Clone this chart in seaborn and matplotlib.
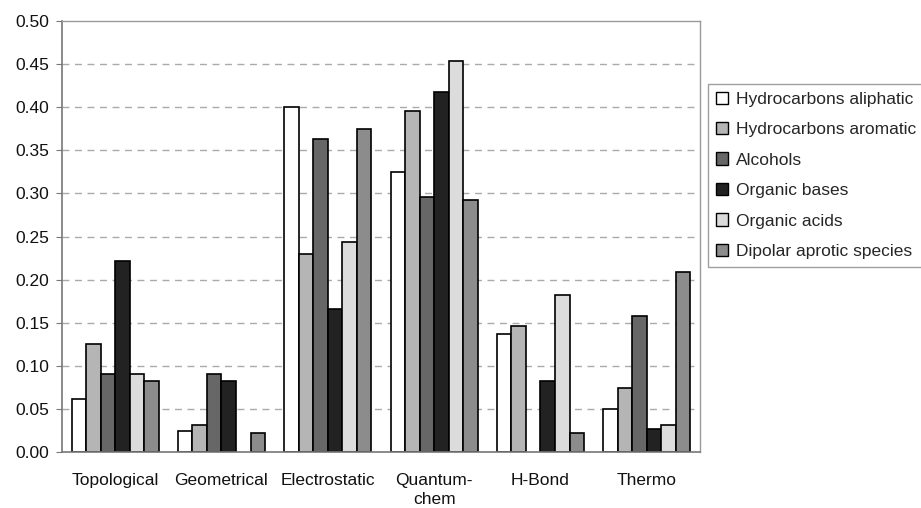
import numpy as np
import pandas as pd
import matplotlib
matplotlib.use("Agg")
import matplotlib.pyplot as plt
import seaborn as sns

categories = ["Topological", "Geometrical", "Electrostatic", "Quantum-\nchem", "H-Bond", "Thermo"]
series = ["Hydrocarbons aliphatic", "Hydrocarbons aromatic", "Alcohols",
          "Organic bases", "Organic acids", "Dipolar aprotic species"]
aliphatic = [0.062, 0.025, 0.400, 0.325, 0.137, 0.050]
aromatic = [0.125, 0.031, 0.230, 0.396, 0.146, 0.074]
alcohols = [0.091, 0.091, 0.363, 0.296, np.nan, 0.158]
bases = [0.222, 0.083, 0.166, 0.418, 0.083, 0.027]
acids = [0.091, np.nan, 0.244, 0.454, 0.182, 0.031]
dipolar = [0.083, 0.022, 0.375, 0.292, 0.022, 0.209]
yticks = [0.00, 0.05, 0.10, 0.15, 0.20, 0.25, 0.30, 0.35, 0.40, 0.45, 0.50]

colors = ["#ffffff", "#b5b5b5", "#676767", "#222222", "#dcdcdc", "#8c8c8c"]

rows = []
for s, vals in zip(series, [aliphatic, aromatic, alcohols, bases, acids, dipolar]):
    for c, v in zip(categories, vals):
        rows.append({"category": c, "series": s, "value": v})
df = pd.DataFrame(rows)

sns.set_theme(style="white")
plt.rcParams["font.family"] = ["Liberation Sans", "DejaVu Sans"]
FS = 12.5

fig = plt.figure(figsize=(9.21, 5.08), dpi=100)
ax = fig.add_axes([0.0673, 0.110, 0.6927, 0.8487])

sns.barplot(data=df, x="category", y="value", hue="series", order=categories,
            hue_order=series, palette=colors, width=0.82, edgecolor="black",
            linewidth=1.2, ax=ax, errorbar=None, saturation=1)

ax.set_ylim(0, 0.5)
ax.set_xlim(-0.5, len(categories) - 0.5)
ax.set_yticks(yticks)
ax.set_yticklabels([f"{t:.2f}" for t in yticks], fontsize=FS, color="#111111")
ax.set_xticks(range(len(categories)))
ax.set_xticklabels(categories, fontsize=FS, color="#111111", linespacing=1.35)
ax.set_xticks(np.arange(-0.5, len(categories), 1.0), minor=True)
ax.tick_params(axis="x", which="major", length=0, pad=15)
ax.tick_params(axis="x", which="minor", length=4, color="#777777", width=0.8)
ax.tick_params(axis="y", length=4, color="#777777", width=0.8, left=True, pad=5)
ax.set_xlabel("")
ax.set_ylabel("")

for y in yticks[1:-1]:
    ax.axhline(y, color="#aaaaaa", linestyle=(0, (5, 4)), linewidth=1.0, zorder=0)
ax.set_axisbelow(True)

for side in ["left", "bottom"]:
    ax.spines[side].set_color("#777777")
    ax.spines[side].set_linewidth(1.2)
for side in ["top", "right"]:
    ax.spines[side].set_visible(True)
    ax.spines[side].set_color("#999999")
    ax.spines[side].set_linewidth(1.0)

ax.get_legend().remove()
handles = [plt.Rectangle((0, 0), 1, 1, facecolor=c, edgecolor="black", linewidth=1.0) for c in colors]
leg = fig.legend(handles, series, loc="upper left", bbox_to_anchor=(0.769, 0.835),
                 frameon=True, fancybox=False, fontsize=FS, handlelength=0.7,
                 handleheight=0.7, handletextpad=0.45, labelspacing=0.88,
                 borderpad=0.45, borderaxespad=0)
leg.get_frame().set_edgecolor("#888888")
leg.get_frame().set_linewidth(1.0)

fig.savefig("out.png", dpi=100)
